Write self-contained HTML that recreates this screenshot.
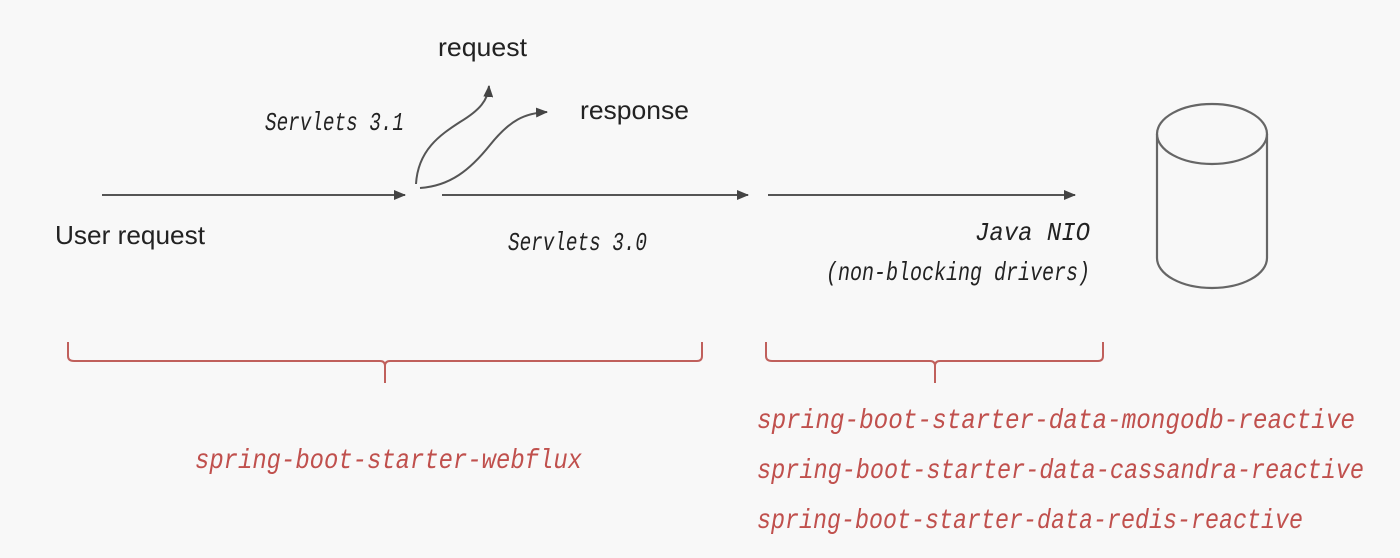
<!DOCTYPE html>
<html><head><style>html,body{margin:0;padding:0;background:#f8f8f8;}svg{display:block}</style></head>
<body>
<svg width="1400" height="558" viewBox="0 0 1400 558" xmlns="http://www.w3.org/2000/svg">
<rect width="1400" height="558" fill="#f8f8f8"/>
<defs>
<marker id="ah" markerWidth="12" markerHeight="10" refX="11" refY="5" orient="auto" markerUnits="userSpaceOnUse">
<path d="M0,0 L12,5 L0,10 z" fill="#444"/></marker>
</defs>
<g stroke="#555" stroke-width="2" fill="none">
<line x1="102" y1="195" x2="405" y2="195" marker-end="url(#ah)"/>
<line x1="442" y1="195" x2="748" y2="195" marker-end="url(#ah)"/>
<line x1="768" y1="195" x2="1075" y2="195" marker-end="url(#ah)"/>
<path d="M416,184 C418,150 440,135 460,122 C480,110 488,100 489,86" marker-end="url(#ah)"/>
<path d="M420,188 C450,186 470,170 490,145 C510,120 525,113 547,112" marker-end="url(#ah)"/>
<ellipse cx="1212" cy="134" rx="55" ry="30" stroke="#666" stroke-width="2.2"/>
<path d="M1157,134 L1157,258 A55,30 0 0 0 1267,258 L1267,134" stroke="#666" stroke-width="2.2"/>
</g>
<g stroke="#c0605c" stroke-width="2" fill="none">
<path d="M68,342 L68,356 Q68,361 74,361 L380,361 Q385,361 385,366 L385,383 M385,366 Q385,361 390,361 L697,361 Q702,361 702,356 L702,342"/>
<path d="M766,342 L766,356 Q766,361 772,361 L930,361 Q935,361 935,366 L935,383 M935,366 Q935,361 940,361 L1098,361 Q1103,361 1103,356 L1103,342"/>
</g>
<g font-family="Liberation Sans, sans-serif" font-size="26" fill="#222">
<text x="438" y="56" textLength="89" lengthAdjust="spacingAndGlyphs">request</text>
<text x="580" y="119" textLength="109" lengthAdjust="spacingAndGlyphs">response</text>
<text x="55" y="244" textLength="150" lengthAdjust="spacingAndGlyphs">User request</text>
</g>
<g font-family="Liberation Mono, monospace" font-style="italic" font-size="26" fill="#222">
<text x="265" y="130" textLength="139" lengthAdjust="spacingAndGlyphs">Servlets 3.1</text>
<text x="508" y="250" textLength="139" lengthAdjust="spacingAndGlyphs">Servlets 3.0</text>
<text x="975" y="240" textLength="115" lengthAdjust="spacingAndGlyphs">Java NIO</text>
<text x="826" y="280" textLength="264" lengthAdjust="spacingAndGlyphs">(non-blocking drivers)</text>
</g>
<g font-family="Liberation Mono, monospace" font-style="italic" font-size="28" fill="#c0504d">
<text x="195" y="468" textLength="387" lengthAdjust="spacingAndGlyphs">spring-boot-starter-webflux</text>
<text x="757" y="428" textLength="598" lengthAdjust="spacingAndGlyphs">spring-boot-starter-data-mongodb-reactive</text>
<text x="757" y="478" textLength="607" lengthAdjust="spacingAndGlyphs">spring-boot-starter-data-cassandra-reactive</text>
<text x="757" y="528" textLength="546" lengthAdjust="spacingAndGlyphs">spring-boot-starter-data-redis-reactive</text>
</g>
</svg>
</body></html>
